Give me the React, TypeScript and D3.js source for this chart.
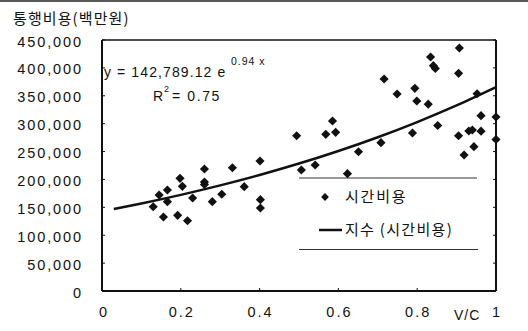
import React from "react";
import * as d3 from "d3";

const xVals = [0.130, 0.145, 0.156, 0.166, 0.166, 0.192, 0.198, 0.204, 0.217, 0.230, 0.260, 0.260, 0.260, 0.280, 0.304, 0.331, 0.361, 0.401, 0.402, 0.402, 0.494, 0.506, 0.541, 0.568, 0.585, 0.593, 0.623, 0.651, 0.708, 0.716, 0.749, 0.788, 0.794, 0.799, 0.828, 0.834, 0.841, 0.846, 0.852, 0.907, 0.905, 0.905, 0.919, 0.931, 0.940, 0.944, 0.952, 0.962, 0.962, 1.0, 1.0];
const yVals = [151100, 172100, 132700, 181100, 160100, 135700, 202000, 187700, 126000, 166700, 218700, 195400, 190900, 160100, 173500, 220900, 187000, 233100, 163700, 148800, 278400, 216900, 225900, 280900, 304800, 284500, 210300, 249700, 265900, 380100, 353200, 283300, 363400, 340600, 334900, 419500, 404000, 399000, 296700, 435600, 390300, 278400, 243800, 286800, 288600, 258700, 353700, 286500, 314300, 311900, 271600];
const yTicks = [0, 50000, 100000, 150000, 200000, 250000, 300000, 350000, 400000, 450000];
const xTicks = [0, 0.2, 0.4, 0.6, 0.8, 1];
const xTickLabels = ["0", "0.2", "0.4", "0.6", "0.8", "1"];
const trendA = 142789.12;
const trendB = 0.94;
const trendX = [0.03, 0.1, 0.2, 0.3, 0.4, 0.5, 0.6, 0.7, 0.8, 0.9, 1.0];

const W = 528, H = 331;
const L = 102, R = 496, T = 40, B = 291;
const latin = "'Liberation Sans', Arial, sans-serif";
const kor = "'Noto Sans CJK KR', 'Noto Sans', sans-serif";

export default function App() {
  const x = d3.scaleLinear().domain([0, 1]).range([L, R]);
  const y = d3.scaleLinear().domain([0, 450000]).range([B, T]);
  const line = d3.line<number>().x(d => x(d)).y(d => y(trendA * Math.exp(trendB * d))).curve(d3.curveMonotoneX);
  const diamond = d3.symbol().type(d3.symbolSquare).size(42)();
  const fmt = d3.format(",");
  return (
    <svg width={W} height={H} style={{ position: "absolute", left: 0, top: 0, background: "#fff" }}>
      <rect x={0} y={0} width={W} height={H} fill="#fff" />
      <line x1={0} x2={W} y1={1} y2={1} stroke="#222" strokeWidth={1.6} />
      <text x={13} y={24} fontFamily={kor} fontSize={15} letterSpacing={1.1} fill="#111">통행비용(백만원)</text>
      {yTicks.map(t => (
        <g key={t}>
          <text x={83} y={y(t) + 1.5} dy="0.35em" textAnchor="end" fontFamily={latin} fontSize={14.5} letterSpacing={1.9} fill="#111">{t === 0 ? "0" : fmt(t)}</text>
          <line x1={L} x2={L + 3} y1={y(t)} y2={y(t)} stroke="#111" strokeWidth={1} />
          <line x1={R - 3} x2={R} y1={y(t)} y2={y(t)} stroke="#111" strokeWidth={1} />
        </g>
      ))}
      {xTicks.map((t, i) => (
        <g key={t}>
          <text x={x(t) + (i === 0 ? 2 : 1)} y={312} dy="0.35em" textAnchor="middle" fontFamily={latin} fontSize={14.5} letterSpacing={2} fill="#111">{xTickLabels[i]}</text>
          <line x1={x(t)} x2={x(t)} y1={B} y2={B - 3} stroke="#111" strokeWidth={1} />
        </g>
      ))}
      <text x={454} y={315} dy="0.35em" fontFamily={latin} fontSize={14} letterSpacing={1} fill="#111">V/C</text>
      <line x1={L} x2={R} y1={T} y2={T} stroke="#111" strokeWidth={1.5} />
      <line x1={R} x2={R} y1={T} y2={B} stroke="#111" strokeWidth={2} />
      <line x1={L} x2={L} y1={T} y2={B} stroke="#111" strokeWidth={2} />
      <line x1={L} x2={R} y1={B} y2={B} stroke="#111" strokeWidth={2} />
      <line x1={299} x2={477} y1={178} y2={178} stroke="#333" strokeWidth={1} />
      <line x1={299} x2={478} y1={249.5} y2={249.5} stroke="#333" strokeWidth={1} />
      <path d={line(trendX) || ""} fill="none" stroke="#111" strokeWidth={2.5} />
      {xVals.map((v, i) => (
        <path key={i} d={diamond || ""} transform={`translate(${x(v)},${y(yVals[i])}) rotate(45)`} fill="#111" />
      ))}
      <text x={104} y={77} fontFamily={latin} fontSize={14} letterSpacing={1.1} fill="#111">y = 142,789.12 e</text>
      <text x={231} y={64.5} fontFamily={latin} fontSize={10.5} letterSpacing={1} fill="#111">0.94 x</text>
      <text x={153} y={101} fontFamily={latin} fontSize={14} letterSpacing={1.6} fill="#111">R</text>
      <text x={164} y={92} fontFamily={latin} fontSize={9} fill="#111">2</text>
      <text x={172} y={101} fontFamily={latin} fontSize={14} letterSpacing={1.6} fill="#111">= 0.75</text>
      <path d={diamond || ""} transform="translate(325,197) rotate(45) scale(0.85)" fill="#111" />
      <text x={345} y={197} dy="0.35em" fontFamily={kor} fontSize={15} letterSpacing={1.8} fill="#111">시간비용</text>
      <line x1={319} x2={342} y1={230} y2={230} stroke="#111" strokeWidth={2.5} />
      <text x={345} y={230} dy="0.35em" fontFamily={kor} fontSize={15} letterSpacing={1.3} fill="#111">지수 (시간비용)</text>
    </svg>
  );
}
